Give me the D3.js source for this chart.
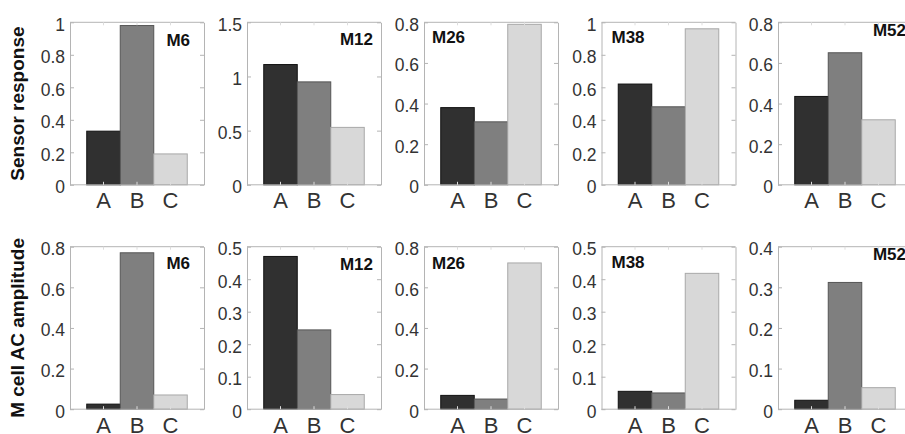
<!DOCTYPE html>
<html>
<head>
<meta charset="utf-8">
<script src="https://cdn.jsdelivr.net/npm/d3@7"></script>
<style>
  html, body { margin: 0; padding: 0; background: #fff; }
  svg { display: block; }
  text { font-family: Arial, "Liberation Sans", Helvetica, sans-serif; }
</style>
</head>
<body>
<svg id="chart" width="905" height="434"></svg>
<script>
// ---- data ----
const categories = ["A", "B", "C"];
const panelNames = ["M6", "M12", "M26", "M38", "M52"];
const rowTitles = ["Sensor response", "M cell AC amplitude"];

const sensorResponse = [
  [0.33, 0.98, 0.19],
  [1.11, 0.95, 0.53],
  [0.38, 0.31, 0.79],
  [0.62, 0.48, 0.96],
  [0.435, 0.65, 0.32]
];
const acAmplitude = [
  [0.025, 0.77, 0.07],
  [0.47, 0.244, 0.045],
  [0.068, 0.05, 0.72],
  [0.055, 0.05, 0.418],
  [0.022, 0.312, 0.053]
];
const sensorMax = [1, 1.5, 0.8, 1, 0.8];
const acMax = [0.8, 0.5, 0.8, 0.5, 0.4];
const sensorTicks = [
  ["0", "0.2", "0.4", "0.6", "0.8", "1"],
  ["0", "0.5", "1", "1.5"],
  ["0", "0.2", "0.4", "0.6", "0.8"],
  ["0", "0.2", "0.4", "0.6", "0.8", "1"],
  ["0", "0.2", "0.4", "0.6", "0.8"]
];
const acTicks = [
  ["0", "0.2", "0.4", "0.6", "0.8"],
  ["0", "0.1", "0.2", "0.3", "0.4", "0.5"],
  ["0", "0.2", "0.4", "0.6", "0.8"],
  ["0", "0.1", "0.2", "0.3", "0.4", "0.5"],
  ["0", "0.1", "0.2", "0.3", "0.4"]
];

// ---- style / layout ----
const barFill = ["#303030", "#7f7f7f", "#d8d8d8"];
const barStroke = ["#111111", "#555555", "#a8a8a8"];
const axisColor = "#b4b4b4";
const textColor = "#333333";

const panelLeft = [70, 247, 424, 601.5, 778];
const panelW = 134;
const rowTop = [22.3, 246.7];
const panelH = 162.5;
const labelSide = ["end", "end", "start", "start", "end"];
const labelDy = [[24, 23, 21, 21, 14], [22, 23, 22, 21, 13]];
const labelInset = [14, 8, 8, 10, 6];

const svg = d3.select("#chart");

const rows = [
  { values: sensorResponse, max: sensorMax, ticks: sensorTicks },
  { values: acAmplitude, max: acMax, ticks: acTicks }
];

rows.forEach((row, r) => {
  const top = rowTop[r];
  const bottom = top + panelH;

  panelNames.forEach((name, p) => {
    const left = panelLeft[p];
    const right = left + panelW;
    const x = d3.scaleBand().domain(categories).range([left, right]).paddingOuter(0.5).paddingInner(0);
    const y = d3.scaleLinear().domain([0, row.max[p]]).range([bottom, top]);
    const g = svg.append("g");

    g.append("rect")
      .attr("x", left).attr("y", top).attr("width", panelW).attr("height", panelH)
      .attr("fill", "#fff");

    g.selectAll("rect.bar")
      .data(row.values[p].map((v, i) => ({ c: categories[i], v, i })))
      .enter().append("rect")
      .attr("class", "bar")
      .attr("x", d => x(d.c))
      .attr("width", x.bandwidth())
      .attr("y", d => y(d.v))
      .attr("height", d => y(0) - y(d.v))
      .attr("fill", d => barFill[d.i])
      .attr("stroke", d => barStroke[d.i])
      .attr("stroke-width", 1);

    const tickVals = row.ticks[p].map(Number);

    const leftAxis = d3.axisLeft(y).tickValues(tickVals)
      .tickFormat((d, i) => row.ticks[p][i]).tickSizeInner(-4).tickSizeOuter(0).tickPadding(5);
    const la = g.append("g").attr("transform", `translate(${left},0)`).call(leftAxis);
    la.select(".domain").attr("stroke", axisColor);
    la.selectAll(".tick line").attr("stroke", axisColor);
    la.selectAll(".tick text").attr("fill", textColor).attr("font-size", 17.5).attr("dy", "0.45em");

    const rightAxis = d3.axisRight(y).tickValues(tickVals).tickFormat("").tickSizeInner(-4).tickSizeOuter(0);
    const ra = g.append("g").attr("transform", `translate(${right},0)`).call(rightAxis);
    ra.select(".domain").attr("stroke", axisColor);
    ra.selectAll(".tick line").attr("stroke", axisColor);

    const bottomAxis = d3.axisBottom(x).tickSizeInner(-3).tickSizeOuter(0).tickPadding(7);
    const ba = g.append("g").attr("transform", `translate(0,${bottom})`).call(bottomAxis);
    ba.select(".domain").attr("stroke", axisColor).attr("d", `M${left},0H${right}`);
    ba.selectAll(".tick line").attr("stroke", "#dddddd");
    ba.selectAll(".tick text").attr("fill", textColor).attr("font-size", 22).attr("dy", "0.75em");

    const topAxis = d3.axisTop(x).tickSizeInner(-3).tickSizeOuter(0).tickFormat("");
    const ta = g.append("g").attr("transform", `translate(0,${top})`).call(topAxis);
    ta.select(".domain").attr("stroke", axisColor).attr("d", `M${left},0H${right}`);
    ta.selectAll(".tick line").attr("stroke", "#dddddd");

    const side = labelSide[p];
    g.append("text")
      .attr("x", side === "end" ? right - labelInset[p] : left + labelInset[p])
      .attr("y", top + labelDy[r][p])
      .attr("text-anchor", side)
      .attr("font-size", 17)
      .attr("font-weight", "bold")
      .attr("fill", "#111")
      .text(name);
  });

  svg.append("text")
    .attr("transform", `translate(24,${top + panelH / 2}) rotate(-90)`)
    .attr("text-anchor", "middle")
    .attr("font-size", 19)
    .attr("font-weight", "bold")
    .attr("fill", "#111")
    .text(rowTitles[r]);
});
</script>
</body>
</html>
